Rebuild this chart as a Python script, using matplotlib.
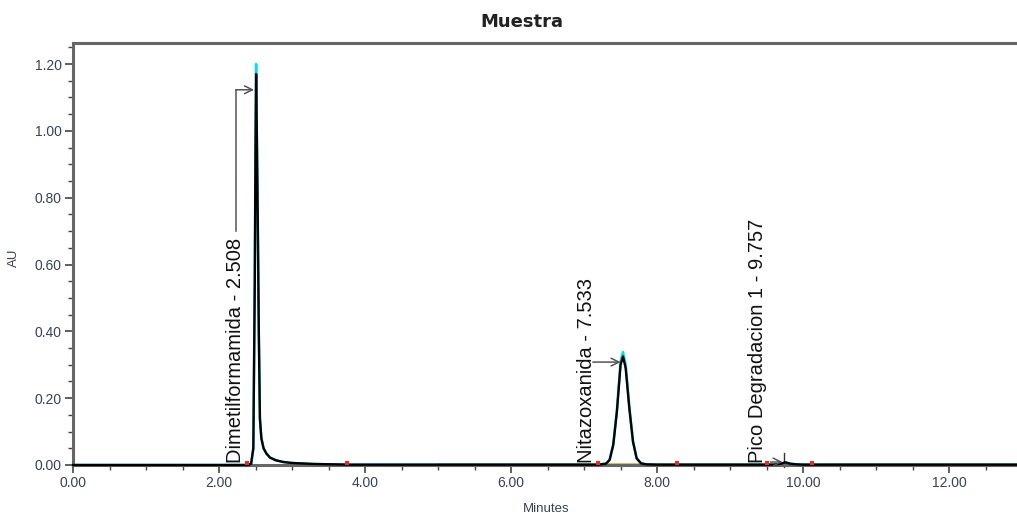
import matplotlib.pyplot as plt
from matplotlib.ticker import MultipleLocator, FormatStrFormatter

# Chromatogram (minutes, AU)
times = [0.00, 2.40, 2.44, 2.47, 2.49, 2.50, 2.508, 2.52, 2.53, 2.545, 2.56,
         2.58, 2.61, 2.65, 2.70, 2.78, 2.88, 3.00, 3.30, 3.80,
         7.20, 7.30, 7.35, 7.40, 7.45, 7.50, 7.533, 7.57, 7.62, 7.67, 7.72,
         7.78, 7.85, 8.00, 9.60, 9.70, 9.757, 9.82, 9.90, 10.00, 12.93]
au_black = [0.000, 0.000, 0.004, 0.05, 0.55, 0.95, 1.17, 0.95, 0.75, 0.40, 0.14,
            0.08, 0.050, 0.034, 0.022, 0.014, 0.009, 0.006, 0.003, 0.001,
            0.001, 0.004, 0.015, 0.06, 0.16, 0.30, 0.325, 0.29, 0.17, 0.07, 0.02,
            0.005, 0.002, 0.001, 0.001, 0.004, 0.008, 0.004, 0.002, 0.001, 0.001]
au_cyan = [0.000, 0.000, 0.004, 0.05, 0.56, 0.97, 1.20, 0.96, 0.75, 0.40, 0.14,
           0.08, 0.050, 0.034, 0.022, 0.014, 0.009, 0.006, 0.003, 0.001,
           0.001, 0.004, 0.016, 0.062, 0.165, 0.31, 0.338, 0.30, 0.175, 0.072, 0.02,
           0.005, 0.002, 0.001, 0.001, 0.004, 0.008, 0.004, 0.002, 0.001, 0.001]
base_times = [5.0, 12.93]
base_au = [0.003, 0.003]

# peak labels
peak_names = ["Dimetilformamida - 2.508", "Nitazoxanida - 7.533",
              "Pico Degradacion 1 - 9.757"]
label_x = [2.23, 7.04, 9.37]

# integration start/end marks
marks_x = [2.38, 3.75, 7.19, 8.27, 9.51, 10.12]

tick_col = '#38415a'
spine_col = '#666666'

fig = plt.figure(figsize=(10.17, 5.19), dpi=100)
ax = fig.add_axes([73/1017, 1-465/519, (1017-73)/1017, (465-43)/519])

ax.plot(base_times, base_au, color='#c8b44a', lw=1.2, zorder=1)
ax.plot(times, au_cyan, color='#00e0f0', lw=1.8, zorder=2, clip_on=False)
ax.plot(times, au_black, color='black', lw=1.7, zorder=3, clip_on=False)
ax.scatter(marks_x, [0.005]*len(marks_x), s=7, marker='s', color='#ff2020',
           linewidths=0, zorder=4, clip_on=False)

txt = dict(rotation=90, ha='center', va='bottom', fontsize=14.5,
           family='Liberation Sans', color='#111111')
for name, x in zip(peak_names, label_x):
    ax.text(x, 0.006, name, **txt)

arr = dict(arrowstyle='->', color='#555555', lw=1.1, shrinkA=0, shrinkB=0,
           mutation_scale=14)
# peak 1: vertical leader then arrow
ax.plot([2.23, 2.23], [0.70, 1.123], color='#555555', lw=1.1)
ax.annotate('', xy=(2.48, 1.123), xytext=(2.23, 1.123), arrowprops=arr)
# peak 2
ax.annotate('', xy=(7.50, 0.308), xytext=(7.12, 0.308), arrowprops=arr)
# peak 3
ax.annotate('', xy=(9.72, 0.009), xytext=(9.55, 0.009), arrowprops=arr)
ax.plot([9.74, 9.74], [-0.006, 0.036], color='#333333', lw=1.0, clip_on=False)

ax.set_xlim(0, 12.93)
ax.set_ylim(0, 1.263)

ax.xaxis.set_major_locator(MultipleLocator(2))
ax.xaxis.set_minor_locator(MultipleLocator(0.5))
ax.yaxis.set_major_locator(MultipleLocator(0.2))
ax.yaxis.set_minor_locator(MultipleLocator(0.05))
ax.xaxis.set_major_formatter(FormatStrFormatter('%.2f'))
ax.yaxis.set_major_formatter(FormatStrFormatter('%.2f'))

ax.tick_params(which='major', direction='out', length=6, width=1.2,
               color='#444444', labelsize=10, labelcolor=tick_col, pad=2)
ax.tick_params(which='minor', direction='out', length=3.5, width=1.0,
               color='#444444')
for lab in ax.get_xticklabels() + ax.get_yticklabels():
    lab.set_family('Liberation Sans')

for s in ['left', 'bottom', 'top']:
    ax.spines[s].set_color(spine_col)
    ax.spines[s].set_linewidth(2.2)
ax.spines['right'].set_visible(False)

fig.text(522/1017, 1-22/519, 'Muestra', ha='center', va='center',
         fontsize=13, fontweight='bold', family='DejaVu Sans', color='#222222')
fig.text(546/1017, 1-509/519, 'Minutes', ha='center', va='center',
         fontsize=9.5, family='Liberation Sans', color=tick_col)
fig.text(14/1017, 1-258/519, 'AU', ha='center', va='center', rotation=90,
         fontsize=9.5, family='Liberation Sans', color=tick_col)

fig.savefig('out.png', dpi=100)
